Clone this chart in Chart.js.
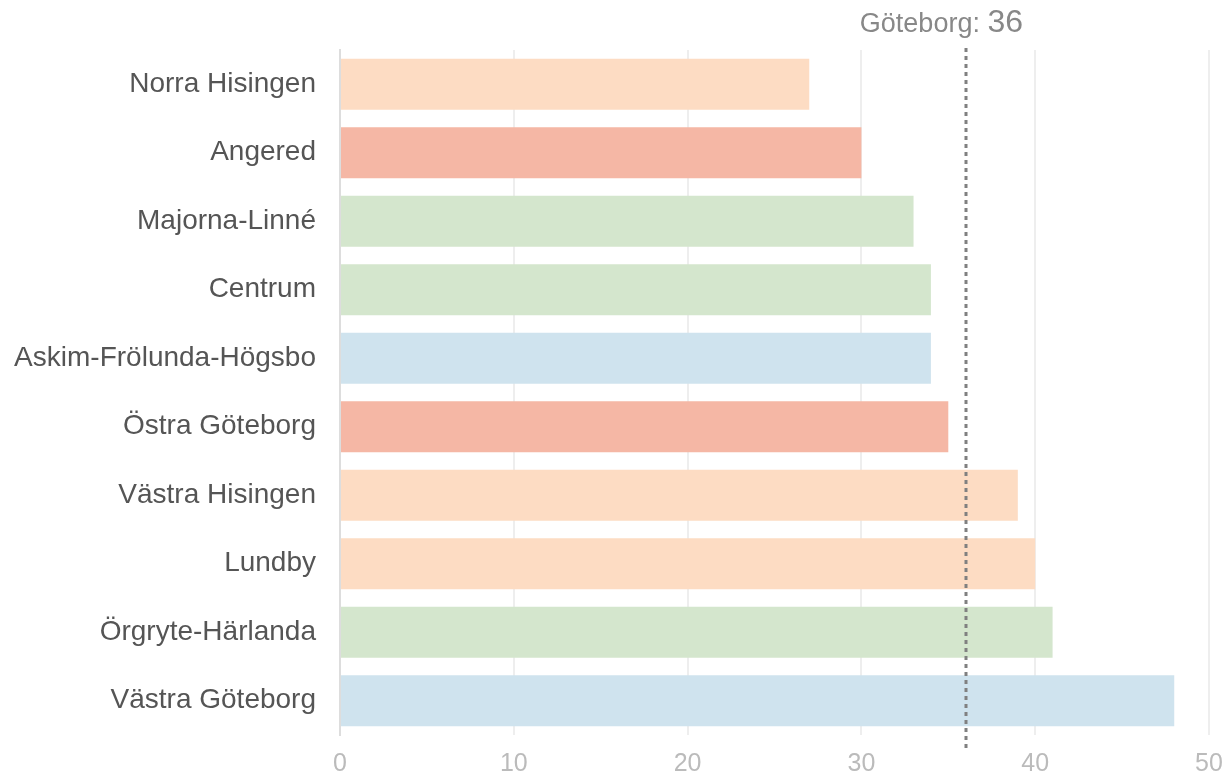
<!DOCTYPE html>
<html><head><meta charset="utf-8">
<script src="https://cdn.jsdelivr.net/npm/chart.js@4"></script>
<style>html,body{margin:0;padding:0;background:#fff}#wrap{width:1225px;height:772px}</style>
</head><body><div id="wrap"><canvas id="c"></canvas></div>
<script>
const categories = ["Norra Hisingen","Angered","Majorna-Linné","Centrum","Askim-Frölunda-Högsbo","Östra Göteborg","Västra Hisingen","Lundby","Örgryte-Härlanda","Västra Göteborg"];
const values = [27,30,33,34,34,35,39,40,41,48];
const groups = ["peach","salmon","green","green","blue","salmon","peach","peach","green","blue"];
const palette = {peach:"#fddcc3", salmon:"#f5b7a5", green:"#d4e6cd", blue:"#cfe3ee"};
const referenceLabel = "Göteborg: ";
const referenceValue = 36;
const xTicks = [0,10,20,30,40,50];

const FONT = "'Liberation Sans', Arial, sans-serif";
const refLine = {
  id:'refLine',
  afterDatasetsDraw(chart){
    const {ctx, chartArea, scales:{x}} = chart;
    const px = Math.round(x.getPixelForValue(referenceValue));
    ctx.save();
    ctx.strokeStyle = "#808080";
    ctx.lineWidth = 3;
    ctx.setLineDash([4,4]);
    ctx.beginPath();
    ctx.moveTo(px, chartArea.top - 2);
    ctx.lineTo(px, chartArea.bottom + 13);
    ctx.stroke();
    ctx.setLineDash([]);
    ctx.fillStyle = "#888";
    ctx.textBaseline = "alphabetic";
    ctx.font = "27px " + FONT;
    const w1 = ctx.measureText(referenceLabel).width;
    ctx.font = "32px " + FONT;
    const w2 = ctx.measureText(String(referenceValue)).width;
    const start = px + 57 - (w1 + w2);
    ctx.font = "27px " + FONT;
    ctx.fillText(referenceLabel, start, 32);
    ctx.font = "32px " + FONT;
    ctx.fillText(String(referenceValue), start + w1, 32);
    ctx.restore();
  }
};

new Chart(document.getElementById('c'), {
  type:'bar',
  data:{ labels:categories, datasets:[{ data:values, backgroundColor:groups.map(g=>palette[g]), barPercentage:0.745, categoryPercentage:1 }]},
  options:{
    indexAxis:'y', responsive:true, maintainAspectRatio:false, animation:false,
    layout:{padding:{top:50, right:16, left:0, bottom:0}},
    plugins:{legend:{display:false}, tooltip:{enabled:false}},
    scales:{
      x:{ min:0, max:50, afterBuildTicks(s){ s.ticks = xTicks.map(v=>({value:v})); },
          afterFit(s){ s.height = 37; s.paddingLeft = 0; s.paddingRight = 0; },
          grid:{ color:"#eeeeee", lineWidth:2, drawTicks:false },
          border:{ display:false },
          ticks:{ color:"#bbbbbb", padding:14, font:{size:25, family:"'Liberation Sans Narrow', 'Liberation Sans', Arial, sans-serif"} } },
      y:{ afterFit(s){ s.width = 340; s.paddingTop = 0; s.paddingBottom = 0; },
          grid:{ display:false, drawTicks:false },
          border:{ display:true, color:"#dddddd", width:2 },
          ticks:{ color:"#555555", padding:24, font:{size:28, family:FONT} } }
    }
  },
  plugins:[refLine]
});
</script></body></html>
